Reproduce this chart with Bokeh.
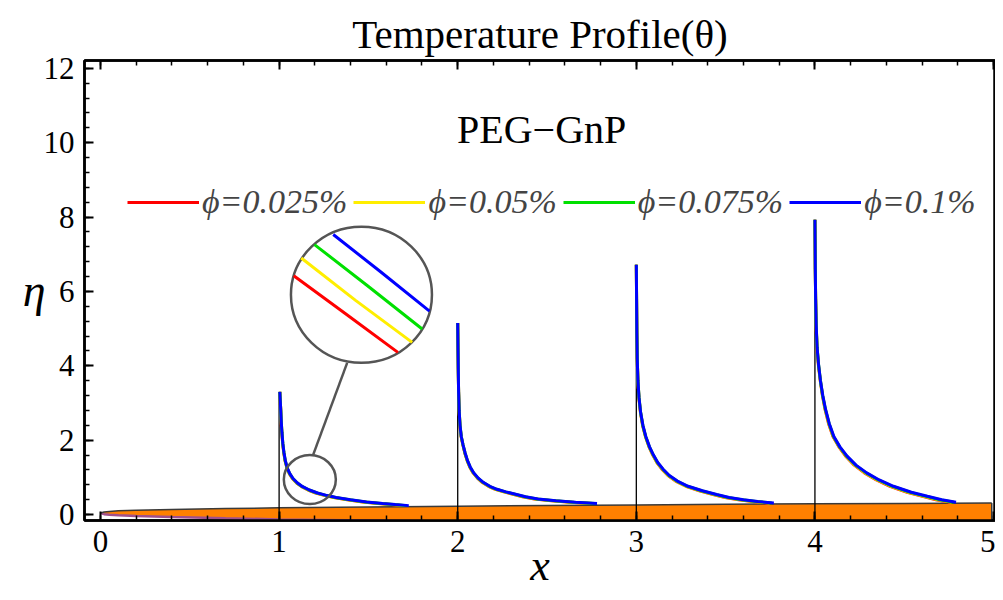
from bokeh.plotting import figure
from bokeh.models import Range1d, LinearAxis, FixedTicker, Legend, LegendItem, CustomJSTickFormatter, Label
from bokeh.embed import file_html
from bokeh.resources import INLINE

# ---------------- data ----------------
series_names = ["ϕ=0.025%", "ϕ=0.05%", "ϕ=0.075%", "ϕ=0.1%"]
series_colors = ["#ff0000", "#ffee00", "#00e000", "#0000ff"]

stations = [1, 2, 3, 4]
station_base = [-0.2, -0.2, -0.2, -0.2]
station_top = [3.3, 5.15, 6.72, 7.93]

# station x = 1  (horizontal offset of each profile from the station line)
eta_1 = [0.24, 0.27, 0.30, 0.34, 0.40, 0.46, 0.51, 0.58, 0.66, 0.75, 0.85, 0.97, 1.1, 1.25, 1.45, 1.67, 1.9, 2.2, 2.5, 2.82, 3.1, 3.3]
blue_1 = [0.726, 0.65, 0.58, 0.49, 0.40, 0.32, 0.27, 0.215, 0.17, 0.132, 0.103, 0.078, 0.06, 0.046, 0.035, 0.027, 0.021, 0.016, 0.012, 0.009, 0.006, 0.004]
green_1 = [0.715, 0.64, 0.571, 0.483, 0.394, 0.315, 0.266, 0.212, 0.167, 0.13, 0.101, 0.077, 0.059, 0.045, 0.034, 0.027, 0.021, 0.016, 0.012, 0.009, 0.006, 0.004]
yellow_1 = [0.704, 0.63, 0.563, 0.475, 0.388, 0.31, 0.262, 0.209, 0.165, 0.128, 0.1, 0.076, 0.058, 0.045, 0.034, 0.026, 0.02, 0.016, 0.012, 0.009, 0.006, 0.004]
red_1 = [0.693, 0.621, 0.554, 0.468, 0.382, 0.306, 0.258, 0.205, 0.162, 0.126, 0.098, 0.074, 0.057, 0.044, 0.033, 0.026, 0.02, 0.015, 0.011, 0.009, 0.006, 0.004]

# station x = 2
eta_2 = [0.30, 0.33, 0.37, 0.42, 0.48, 0.54, 0.61, 0.68, 0.76, 0.86, 0.98, 1.12, 1.28, 1.45, 1.65, 1.87, 2.1, 2.4, 2.8, 3.3, 3.9, 4.5, 5.15]
blue_2 = [0.78, 0.66, 0.55, 0.45, 0.38, 0.33, 0.27, 0.22, 0.18, 0.145, 0.115, 0.09, 0.07, 0.055, 0.042, 0.03, 0.02, 0.013, 0.008, 0.005, 0.003, 0.0015, 0.0]
green_2 = [0.768, 0.65, 0.542, 0.443, 0.374, 0.325, 0.266, 0.217, 0.177, 0.143, 0.113, 0.089, 0.069, 0.054, 0.041, 0.03, 0.02, 0.013, 0.008, 0.005, 0.003, 0.0015, 0.0]
yellow_2 = [0.757, 0.64, 0.534, 0.437, 0.369, 0.32, 0.262, 0.213, 0.175, 0.141, 0.112, 0.087, 0.068, 0.053, 0.041, 0.029, 0.019, 0.013, 0.008, 0.005, 0.003, 0.0015, 0.0]
red_2 = [0.745, 0.63, 0.525, 0.43, 0.363, 0.315, 0.258, 0.21, 0.172, 0.138, 0.11, 0.086, 0.067, 0.053, 0.04, 0.029, 0.019, 0.012, 0.008, 0.005, 0.003, 0.0014, 0.0]

# station x = 3
eta_3 = [0.31, 0.35, 0.40, 0.46, 0.54, 0.64, 0.76, 0.9, 1.05, 1.22, 1.4, 1.6, 1.82, 2.1, 2.4, 2.75, 3.15, 3.6, 4.2, 4.9, 5.8, 6.72]
blue_3 = [0.77, 0.68, 0.60, 0.52, 0.45, 0.37, 0.29, 0.23, 0.185, 0.15, 0.12, 0.096, 0.074, 0.053, 0.037, 0.024, 0.015, 0.009, 0.005, 0.003, 0.0015, 0.0]
green_3 = [0.758, 0.67, 0.591, 0.512, 0.443, 0.364, 0.286, 0.227, 0.182, 0.148, 0.118, 0.095, 0.073, 0.052, 0.036, 0.024, 0.015, 0.009, 0.005, 0.003, 0.0015, 0.0]
yellow_3 = [0.747, 0.66, 0.582, 0.504, 0.437, 0.359, 0.281, 0.223, 0.179, 0.146, 0.116, 0.093, 0.072, 0.051, 0.036, 0.023, 0.015, 0.009, 0.005, 0.003, 0.0015, 0.0]
red_3 = [0.735, 0.65, 0.573, 0.497, 0.43, 0.353, 0.277, 0.22, 0.177, 0.143, 0.115, 0.092, 0.071, 0.051, 0.035, 0.023, 0.014, 0.009, 0.005, 0.003, 0.0014, 0.0]

# station x = 4
eta_4 = [0.33, 0.40, 0.49, 0.60, 0.76, 0.93, 1.12, 1.33, 1.57, 1.82, 2.1, 2.45, 2.82, 3.2, 3.6, 4.0, 4.5, 5.1, 5.8, 6.6, 7.3, 7.93]
blue_4 = [0.79, 0.71, 0.63, 0.54, 0.44, 0.36, 0.29, 0.23, 0.18, 0.14, 0.106, 0.08, 0.06, 0.044, 0.031, 0.021, 0.012, 0.007, 0.004, 0.002, 0.001, 0.0]
green_4 = [0.778, 0.699, 0.621, 0.532, 0.433, 0.355, 0.286, 0.227, 0.177, 0.138, 0.104, 0.079, 0.059, 0.043, 0.031, 0.021, 0.012, 0.007, 0.004, 0.002, 0.001, 0.0]
yellow_4 = [0.766, 0.689, 0.611, 0.524, 0.427, 0.349, 0.281, 0.223, 0.175, 0.136, 0.103, 0.078, 0.058, 0.043, 0.03, 0.02, 0.012, 0.007, 0.004, 0.002, 0.001, 0.0]
red_4 = [0.754, 0.678, 0.602, 0.516, 0.42, 0.344, 0.277, 0.22, 0.172, 0.134, 0.101, 0.076, 0.057, 0.042, 0.03, 0.02, 0.011, 0.007, 0.004, 0.002, 0.001, 0.0]

# body (orange) outline
body_x = [0, 0.02, 0.05, 0.1, 0.2, 0.4, 0.7, 1.0, 1.5, 2.0, 2.5, 3.0, 3.5, 4.0, 4.5, 4.99]
body_upper = [0.04, 0.07, 0.085, 0.10, 0.115, 0.135, 0.16, 0.18, 0.205, 0.225, 0.245, 0.26, 0.275, 0.29, 0.30, 0.31]
body_lower = [0.04, 0.01, -0.005, -0.02, -0.04, -0.065, -0.10, -0.13, -0.16, -0.19, -0.21, -0.23, -0.25, -0.27, -0.28, -0.30]

# magnifier inset
lens_small = (1.172, 0.94)
lens_big = (1.461, 5.91)
lens_link_x = [1.191, 1.381]
lens_link_y = [1.61, 4.08]
inset_red_x = [1.082, 1.372, 1.665]
inset_red_y = [6.42, 5.40, 4.36]
inset_yellow_x = [1.124, 1.428, 1.745]
inset_yellow_y = [6.90, 5.76, 4.63]
inset_green_x = [1.198, 1.493, 1.801]
inset_green_y = [7.26, 6.16, 4.99]
inset_blue_x = [1.303, 1.568, 1.842]
inset_blue_y = [7.53, 6.53, 5.47]

x_ticks = [0, 1, 2, 3, 4, 5]
y_ticks = [0, 2, 4, 6, 8, 10, 12]

# ---------------- figure ----------------
SERIF = "Liberation Serif"
p = figure(width=995, height=592, x_range=Range1d(-0.0896, 5.011), y_range=Range1d(-0.16, 12.21),
           x_axis_type=None, y_axis_type=None, output_backend="svg", toolbar_location=None,
           min_border_left=84, min_border_right=0, min_border_top=60, min_border_bottom=71,
           background_fill_color="white", border_fill_color="white",
           title="Temperature Profile(θ)")
p.outline_line_color = "black"
p.outline_line_width = 2.5
p.outline_line_alpha = 1.0
p.title.align = "center"
p.title.text_font = SERIF
p.title.text_font_size = "41px"
p.title.text_font_style = "normal"
p.title.text_color = "black"
p.title.standoff = 8

x_minor = [i * 0.2 for i in range(-1, 27)]
y_minor = [i * 0.4 for i in range(-1, 32)]

def style_axis(ax, labels=True):
    ax.axis_line_color = "black"
    ax.axis_line_width = 2.5
    ax.major_tick_in = 9
    ax.major_tick_out = 0
    ax.minor_tick_in = 5
    ax.minor_tick_out = 0
    ax.major_tick_line_width = 2
    ax.minor_tick_line_width = 1.5
    ax.major_tick_line_color = "black"
    ax.minor_tick_line_color = "black"
    ax.major_label_text_font = SERIF
    ax.major_label_text_font_size = "31px" if labels else "2px"
    ax.major_label_text_color = "black"
    ax.major_label_standoff = 10 if labels else 0
    ax.axis_label_text_font = SERIF
    ax.axis_label_text_font_style = "italic"
    ax.axis_label_text_color = "black"
    if not labels:
        ax.formatter = CustomJSTickFormatter(code="return ''")

xb = LinearAxis(ticker=FixedTicker(ticks=x_ticks, minor_ticks=x_minor), axis_label="x")
style_axis(xb)
xb.axis_label_text_font_size = "44px"
xb.axis_label_standoff = -14
p.add_layout(xb, "below")

xt = LinearAxis(ticker=FixedTicker(ticks=x_ticks, minor_ticks=x_minor))
style_axis(xt, labels=False)
p.add_layout(xt, "above")

yl = LinearAxis(ticker=FixedTicker(ticks=y_ticks, minor_ticks=y_minor), axis_label="η")
style_axis(yl)
yl.axis_label_text_font_size = "46px"
yl.axis_label_orientation = "horizontal"
yl.axis_label_standoff = -5
p.add_layout(yl, "left")

# body
p.patch(body_x + body_x[::-1], body_upper + body_lower[::-1], fill_color="#ff8000",
        line_color=None)
p.line(body_x, body_lower, line_color="#a0508c", line_width=2.5)
p.line(body_x, body_upper, line_color="#3a3a3a", line_width=1.5)
p.segment(x0=[body_x[-1]], y0=[body_lower[-1]], x1=[body_x[-1]], y1=[body_upper[-1]],
          line_color="#3a3a3a", line_width=1.5)

# station lines
p.segment(x0=stations, y0=station_base, x1=stations, y1=station_top, line_color="black", line_width=1.3)

profiles = [
    (1, eta_1, [red_1, yellow_1, green_1, blue_1]),
    (2, eta_2, [red_2, yellow_2, green_2, blue_2]),
    (3, eta_3, [red_3, yellow_3, green_3, blue_3]),
    (4, eta_4, [red_4, yellow_4, green_4, blue_4]),
]
legend_renderers = [None] * 4
for x0, eta, curves in profiles:
    for k, dx in enumerate(curves):
        r = p.line([x0 + d for d in dx], eta, line_color=series_colors[k], line_width=3)
        if legend_renderers[k] is None:
            legend_renderers[k] = r

# magnifier
p.ellipse(x=[lens_small[0]], y=[lens_small[1]], width=52, height=49, width_units="screen",
          height_units="screen", fill_color=None, line_color="#555555", line_width=2.5)
p.ellipse(x=[lens_big[0]], y=[lens_big[1]], width=141, height=136, width_units="screen",
          height_units="screen", fill_color=None, line_color="#555555", line_width=2.5)
p.line(lens_link_x, lens_link_y, line_color="#555555", line_width=2.5)
for xs, ys, c in [(inset_red_x, inset_red_y, series_colors[0]),
                  (inset_yellow_x, inset_yellow_y, series_colors[1]),
                  (inset_green_x, inset_green_y, series_colors[2]),
                  (inset_blue_x, inset_blue_y, series_colors[3])]:
    p.line(xs, ys, line_color=c, line_width=3)

# legend
legend = Legend(items=[LegendItem(label=n, renderers=[r]) for n, r in zip(series_names, legend_renderers)],
                orientation="horizontal", location=(43, 299), glyph_width=72, glyph_height=30,
                label_height=30, label_standoff=3, spacing=6, padding=0, margin=0,
                border_line_color=None, background_fill_alpha=0,
                label_text_font=SERIF, label_text_font_style="italic", label_text_font_size="34px")
p.add_layout(legend)

p.add_layout(Label(x=2.47, y=10.35, text="PEG−GnP", text_font=SERIF, text_font_size="40px",
                   text_align="center", text_baseline="middle", text_color="black"))

open("out.html", "w").write(file_html(p, INLINE))
